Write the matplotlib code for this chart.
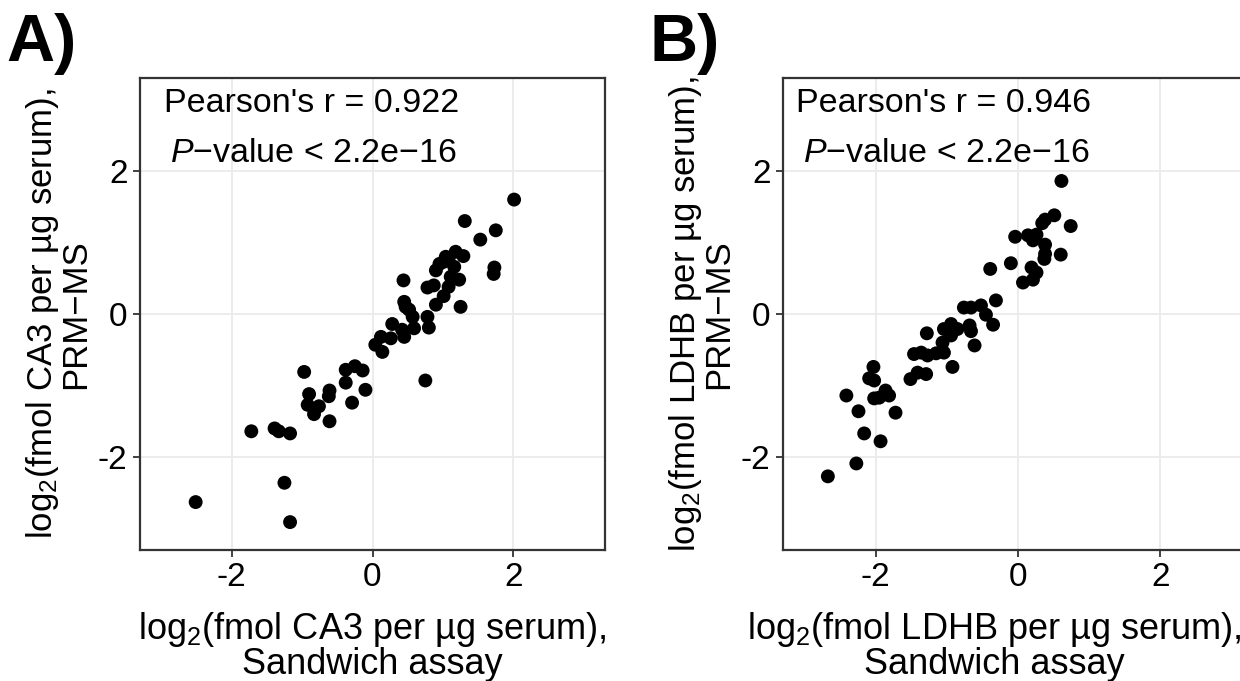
import matplotlib
matplotlib.use("Agg")
import matplotlib.pyplot as plt

plt.rcParams["font.family"] = ["Liberation Sans", "DejaVu Sans"]
plt.rcParams["mathtext.fontset"] = "custom"
plt.rcParams["mathtext.rm"] = "Liberation Sans"
plt.rcParams["mathtext.it"] = "Liberation Sans:italic"

# --- panel A: CA3 ---
ca3_sandwich = [2.01, 1.31, 1.75, 1.53, 1.18, 1.29, 1.08, 1.01, 1.16, 0.90,
                1.73, 1.72, 0.44, 1.23, 0.78, 0.87, 1.08, 1.01, 1.25, 0.90,
                0.45, 0.52, 0.57, 0.78, 0.80, 0.59, 0.28, 0.45, 0.26, 0.12,
                0.04, 0.14, 0.75, -0.97, -0.38, -0.25, -0.14, -0.38, -0.10, -0.61,
                -0.62, -0.90, -0.29, -0.92, -0.76, -0.83, -0.61, -1.72, -1.39, -1.33,
                -1.17, -1.25, -2.51, -1.17, 0.47, 1.11, 1.04, 0.42, 0.95]
ca3_prm = [1.60, 1.30, 1.17, 1.04, 0.87, 0.81, 0.78, 0.73, 0.66, 0.61,
           0.65, 0.56, 0.47, 0.48, 0.37, 0.40, 0.38, 0.25, 0.10, 0.13,
           0.17, 0.06, -0.04, -0.04, -0.19, -0.20, -0.14, -0.32, -0.34, -0.32,
           -0.43, -0.53, -0.93, -0.81, -0.78, -0.73, -0.79, -0.96, -1.06, -1.07,
           -1.15, -1.12, -1.24, -1.27, -1.29, -1.40, -1.50, -1.64, -1.60, -1.64,
           -1.67, -2.36, -2.63, -2.91, 0.10, 0.52, 0.80, -0.22, 0.70]

# --- panel B: LDHB ---
ldhb_sandwich = [0.61, 0.51, 0.38, 0.34, 0.74, -0.04, 0.14, 0.26, 0.21, 0.38,
                 0.38, 0.37, 0.60, -0.10, -0.39, 0.19, 0.26, 0.07, 0.21, -0.31,
                 -0.76, -0.66, -0.52, -0.45, -0.35, -0.94, -1.04, -0.85, -0.68, -0.66,
                 -0.94, -1.28, -1.06, -0.61, -1.04, -1.15, -1.27, -1.46, -1.36, -0.92,
                 -1.51, -1.41, -1.29, -2.03, -2.09, -2.02, -1.86, -1.81, -2.02, -1.95,
                 -2.41, -1.72, -2.24, -2.16, -1.93, -2.27, -2.67]
ldhb_prm = [1.86, 1.38, 1.32, 1.27, 1.23, 1.08, 1.10, 1.11, 1.03, 0.97,
            0.84, 0.77, 0.83, 0.71, 0.63, 0.65, 0.58, 0.44, 0.48, 0.19,
            0.09, 0.09, 0.12, -0.01, -0.15, -0.14, -0.21, -0.21, -0.16, -0.24,
            -0.30, -0.27, -0.40, -0.44, -0.54, -0.55, -0.58, -0.56, -0.54, -0.74,
            -0.91, -0.82, -0.84, -0.74, -0.90, -0.93, -1.07, -1.14, -1.18, -1.17,
            -1.14, -1.38, -1.36, -1.67, -1.78, -2.09, -2.27]

ticks = [-2, 0, 2]
tick_labels = ["-2", "0", "2"]

panels = [
    dict(tag="A)", x=ca3_sandwich, y=ca3_prm, protein="CA3", r="0.922",
         pos=[140 / 1240, 131 / 681, 465 / 1240, 472 / 681], ann_x=-0.87,
         tag_x=6 / 1240, xlab_x=0.5),
    dict(tag="B)", x=ldhb_sandwich, y=ldhb_prm, protein="LDHB", r="0.946",
         pos=[783 / 1240, 131 / 681, 470 / 1240, 472 / 681], ann_x=-1.04,
         tag_x=650 / 1240, xlab_x=0.45),
]

fig = plt.figure(figsize=(12.4, 6.81), dpi=100)
fs_xlab = 26
fs_ylab = 25
fs_tick = 24
fs_ann = 24.5

for p in panels:
    ax = fig.add_axes(p["pos"])
    ax.scatter(p["x"], p["y"], s=100, color="black", edgecolors="none", zorder=3)
    ax.set_xlim(-3.3, 3.3)
    ax.set_ylim(-3.3, 3.3)
    ax.set_xticks(ticks)
    ax.set_xticklabels(tick_labels)
    ax.set_yticks(ticks)
    ax.set_yticklabels(tick_labels)
    ax.grid(True, color="#EBEBEB", lw=1.3, zorder=0)
    ax.set_axisbelow(True)
    for s in ax.spines.values():
        s.set_color("#333333")
        s.set_linewidth(1.6)
    ax.tick_params(direction="out", length=5, width=1.3, color="#333333",
                   labelsize=fs_tick, labelcolor="black", pad=4)
    ax.set_xlabel(f"log$_2$(fmol {p['protein']} per µg serum),\nSandwich assay",
                  fontsize=fs_xlab, linespacing=0.92)
    ax.xaxis.set_label_coords(p["xlab_x"], -0.128, transform=ax.transAxes)
    ax.xaxis.label.set_va("top")
    ax.set_ylabel(f"log$_2$(fmol {p['protein']} per µg serum),\nPRM−MS",
                  fontsize=fs_ylab, labelpad=4, linespacing=0.95)
    ax.text(p["ann_x"], 2.95, f"Pearson's r = {p['r']}", fontsize=fs_ann,
            ha="center", va="center")
    ax.text(p["ann_x"] + 0.03, 2.25, "$\\mathit{P}$−value < 2.2e−16", fontsize=fs_ann,
            ha="center", va="center")
    fig.text(p["tag_x"], 1 - 44 / 681, p["tag"], fontsize=48, fontweight="bold",
             ha="left", va="center")

fig.savefig("out.png", dpi=100)
